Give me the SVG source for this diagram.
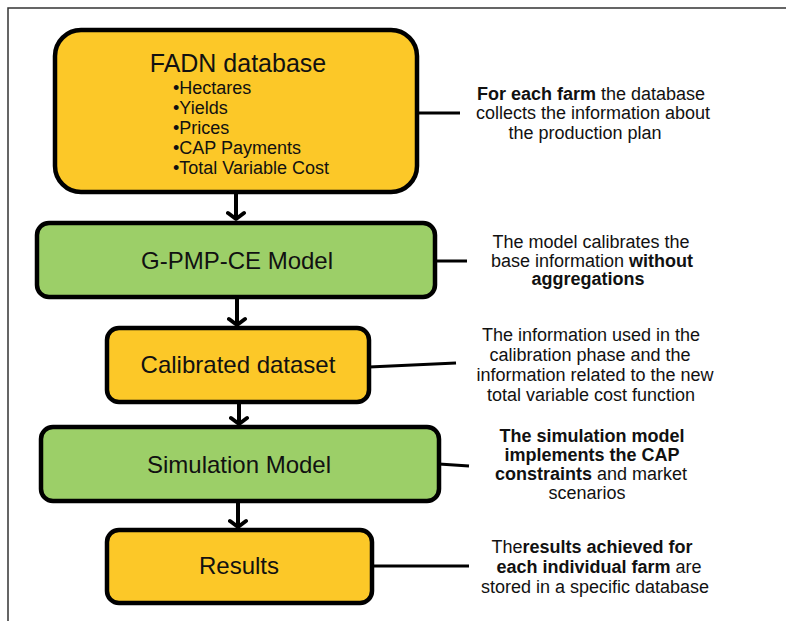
<svg xmlns="http://www.w3.org/2000/svg" width="786" height="621" viewBox="0 0 786 621">
<defs>
<style>
.box{stroke:#000;stroke-width:4.5}
.y{fill:#FCC828}
.g{fill:#9CCF68}
.t{font-family:"Liberation Sans",Arial,sans-serif;fill:#111}
.n{font-size:24px;text-anchor:middle}
.b{font-size:18px}
.r{font-size:18px;text-anchor:middle}
.bd{font-weight:bold}
.c{stroke:#000;stroke-width:3;fill:none}
.a{stroke:#000;stroke-width:4;fill:none}
</style>
<marker id="ah" markerUnits="userSpaceOnUse" markerWidth="24" markerHeight="24" refX="12" refY="14" orient="auto" viewBox="0 0 24 24">
<path d="M4,8 L12,14 L20,8" stroke="#000" stroke-width="4" fill="none" stroke-linecap="round" stroke-linejoin="round" transform="rotate(-90 12 14)"/>
</marker>
</defs>
<rect width="786" height="621" fill="#fff"/>
<path d="M8,621 V8 H786" stroke="#333" stroke-width="1.5" fill="none"/>

<g id="connectors">
<path class="a" d="M236,193 V219" marker-end="url(#ah)"/>
<path class="a" d="M237,298 V325" marker-end="url(#ah)"/>
<path class="a" d="M239,403 V424" marker-end="url(#ah)"/>
<path class="a" d="M238,502 V527" marker-end="url(#ah)"/>
<path class="c" d="M418,113 H460"/>
<path class="c" d="M435,261 H467"/>
<path class="c" d="M369,367 L456,363"/>
<path class="c" d="M439,464 L469,466"/>
<path class="c" d="M372,566 H469"/>
</g>

<g id="fadn">
<rect class="box y" x="55" y="30" width="362" height="162" rx="26"/>
<text class="t" x="238" y="72" font-size="25" text-anchor="middle">FADN database</text>
<text class="t b" x="173" y="94">•Hectares</text>
<text class="t b" x="173" y="114">•Yields</text>
<text class="t b" x="173" y="134">•Prices</text>
<text class="t b" x="173" y="154">•CAP Payments</text>
<text class="t b" x="173" y="174">•Total Variable Cost</text>
</g>

<g id="gpmp">
<rect class="box g" x="37" y="223" width="398" height="74" rx="12"/>
<text class="t n" x="237" y="269">G-PMP-CE Model</text>
</g>

<g id="calibrated">
<rect class="box y" x="107" y="328" width="262" height="74" rx="12"/>
<text class="t n" x="238" y="373">Calibrated dataset</text>
</g>

<g id="simulation">
<rect class="box g" x="41" y="427" width="398" height="74" rx="12"/>
<text class="t n" x="239" y="473">Simulation Model</text>
</g>

<g id="results">
<rect class="box y" x="107" y="530" width="265" height="73" rx="12"/>
<text class="t n" x="239" y="574">Results</text>
</g>

<g id="note-fadn">
<text class="t r" x="591" y="100"><tspan class="bd">For each farm</tspan> the database</text>
<text class="t r" x="593" y="119">collects the information about</text>
<text class="t r" x="585" y="139">the production plan</text>
</g>

<g id="note-gpmp">
<text class="t r" x="591" y="248">The model calibrates the</text>
<text class="t r" x="592" y="267">base information <tspan class="bd">without</tspan></text>
<text class="t r bd" x="588" y="285">aggregations</text>
</g>

<g id="note-calibrated">
<text class="t r" x="591" y="341">The information used in the</text>
<text class="t r" x="590" y="361">calibration phase and the</text>
<text class="t r" x="595" y="381">information related to the new</text>
<text class="t r" x="591" y="401">total variable cost function</text>
</g>

<g id="note-simulation">
<text class="t r bd" x="592" y="442">The simulation model</text>
<text class="t r bd" x="592" y="461">implements the CAP</text>
<text class="t r" x="591" y="480"><tspan class="bd">constraints</tspan> and market</text>
<text class="t r" x="587" y="499">scenarios</text>
</g>

<g id="note-results">
<text class="t r" x="592" y="553">The<tspan class="bd">results achieved for</tspan></text>
<text class="t r" x="599" y="573"><tspan class="bd">each individual farm</tspan> are</text>
<text class="t r" x="595" y="593">stored in a specific database</text>
</g>
</svg>
